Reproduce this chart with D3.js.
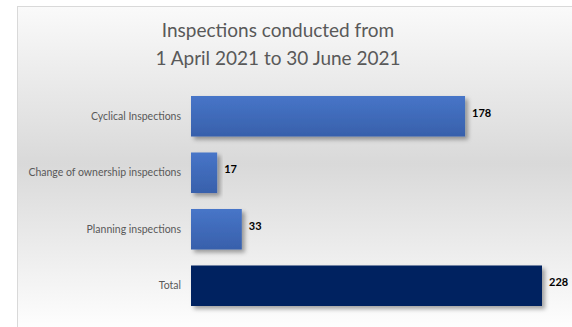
<!DOCTYPE html>
<html>
<head>
<meta charset="utf-8">
<script src="https://cdn.jsdelivr.net/npm/d3@7"></script>
<style>
  body { margin: 0; background: #fff; }
  svg { display: block; font-family: Lato, "Open Sans", sans-serif; }
</style>
</head>
<body>
<div id="chart"></div>
<script>
var width = 572, height = 327;

// data
var categories = ["Cyclical Inspections", "Change of ownership inspections", "Planning inspections", "Total"];
var values = [178, 17, 33, 228];
var titleLines = ["Inspections conducted from", "1 April 2021 to 30 June 2021"];

var svg = d3.select("#chart").append("svg")
  .attr("width", width)
  .attr("height", height);

var defs = svg.append("defs");

// chart area background: light at top and bottom, grey in the middle
var bg = defs.append("linearGradient").attr("id", "bg")
  .attr("x1", 0).attr("y1", 0).attr("x2", 0).attr("y2", 1);
bg.append("stop").attr("offset", "0%").attr("stop-color", "#fafafa");
bg.append("stop").attr("offset", "48%").attr("stop-color", "#d9d9d9");
bg.append("stop").attr("offset", "100%").attr("stop-color", "#ffffff");

var barGrad = defs.append("linearGradient").attr("id", "barGrad")
  .attr("x1", 0).attr("y1", 0).attr("x2", 0).attr("y2", 1);
barGrad.append("stop").attr("offset", "0%").attr("stop-color", "#4775c8");
barGrad.append("stop").attr("offset", "100%").attr("stop-color", "#3860ab");

var shadow = defs.append("filter").attr("id", "shadow")
  .attr("x", "-10%").attr("y", "-10%").attr("width", "130%").attr("height", "140%");
shadow.append("feDropShadow")
  .attr("dx", 3).attr("dy", 3).attr("stdDeviation", 2)
  .attr("flood-color", "#000").attr("flood-opacity", 0.35);

svg.append("rect")
  .attr("x", 17.5).attr("y", 6.5)
  .attr("width", width).attr("height", height)
  .attr("fill", "url(#bg)")
  .attr("stroke", "#d9d9d9");

// title
svg.append("g").selectAll("text")
  .data(titleLines)
  .enter().append("text")
  .attr("x", 278)
  .attr("y", function (d, i) { return 37 + i * 28; })
  .attr("text-anchor", "middle")
  .attr("fill", "#595959")
  .style("font-size", "19px")
  .text(function (d) { return d; });

var x = d3.scaleLinear()
  .domain([0, 228])
  .range([191, 542]);

var y = d3.scaleBand()
  .domain(categories)
  .range([96, 306])
  .paddingInner(0.283)
  .paddingOuter(0);

svg.append("g")
  .attr("transform", "translate(181,0)")
  .call(d3.axisLeft(y).tickSize(0).tickPadding(0))
  .call(function (g) { g.select(".domain").remove(); })
  .selectAll("text")
  .attr("fill", "#595959")
  .style("font-size", "10.5px")
  .style("font-family", "Lato, 'Open Sans', sans-serif");

var rows = categories.map(function (c, i) { return { cat: c, value: values[i] }; });

svg.append("g")
  .selectAll("rect")
  .data(rows)
  .enter().append("rect")
  .attr("x", x(0))
  .attr("y", function (d) { return y(d.cat); })
  .attr("width", function (d) { return x(d.value) - x(0); })
  .attr("height", y.bandwidth())
  .attr("fill", function (d) { return d.cat === "Total" ? "#002060" : "url(#barGrad)"; })
  .attr("filter", "url(#shadow)");

svg.append("g")
  .selectAll("text")
  .data(rows)
  .enter().append("text")
  .attr("x", function (d) { return x(d.value) + 7; })
  .attr("y", function (d) { return y(d.cat) + y.bandwidth() / 2; })
  .attr("dy", "0.05em")
  .attr("fill", "#000")
  .style("font-size", "11px")
  .style("font-weight", "bold")
  .text(function (d) { return d.value; });
</script>
</body>
</html>
